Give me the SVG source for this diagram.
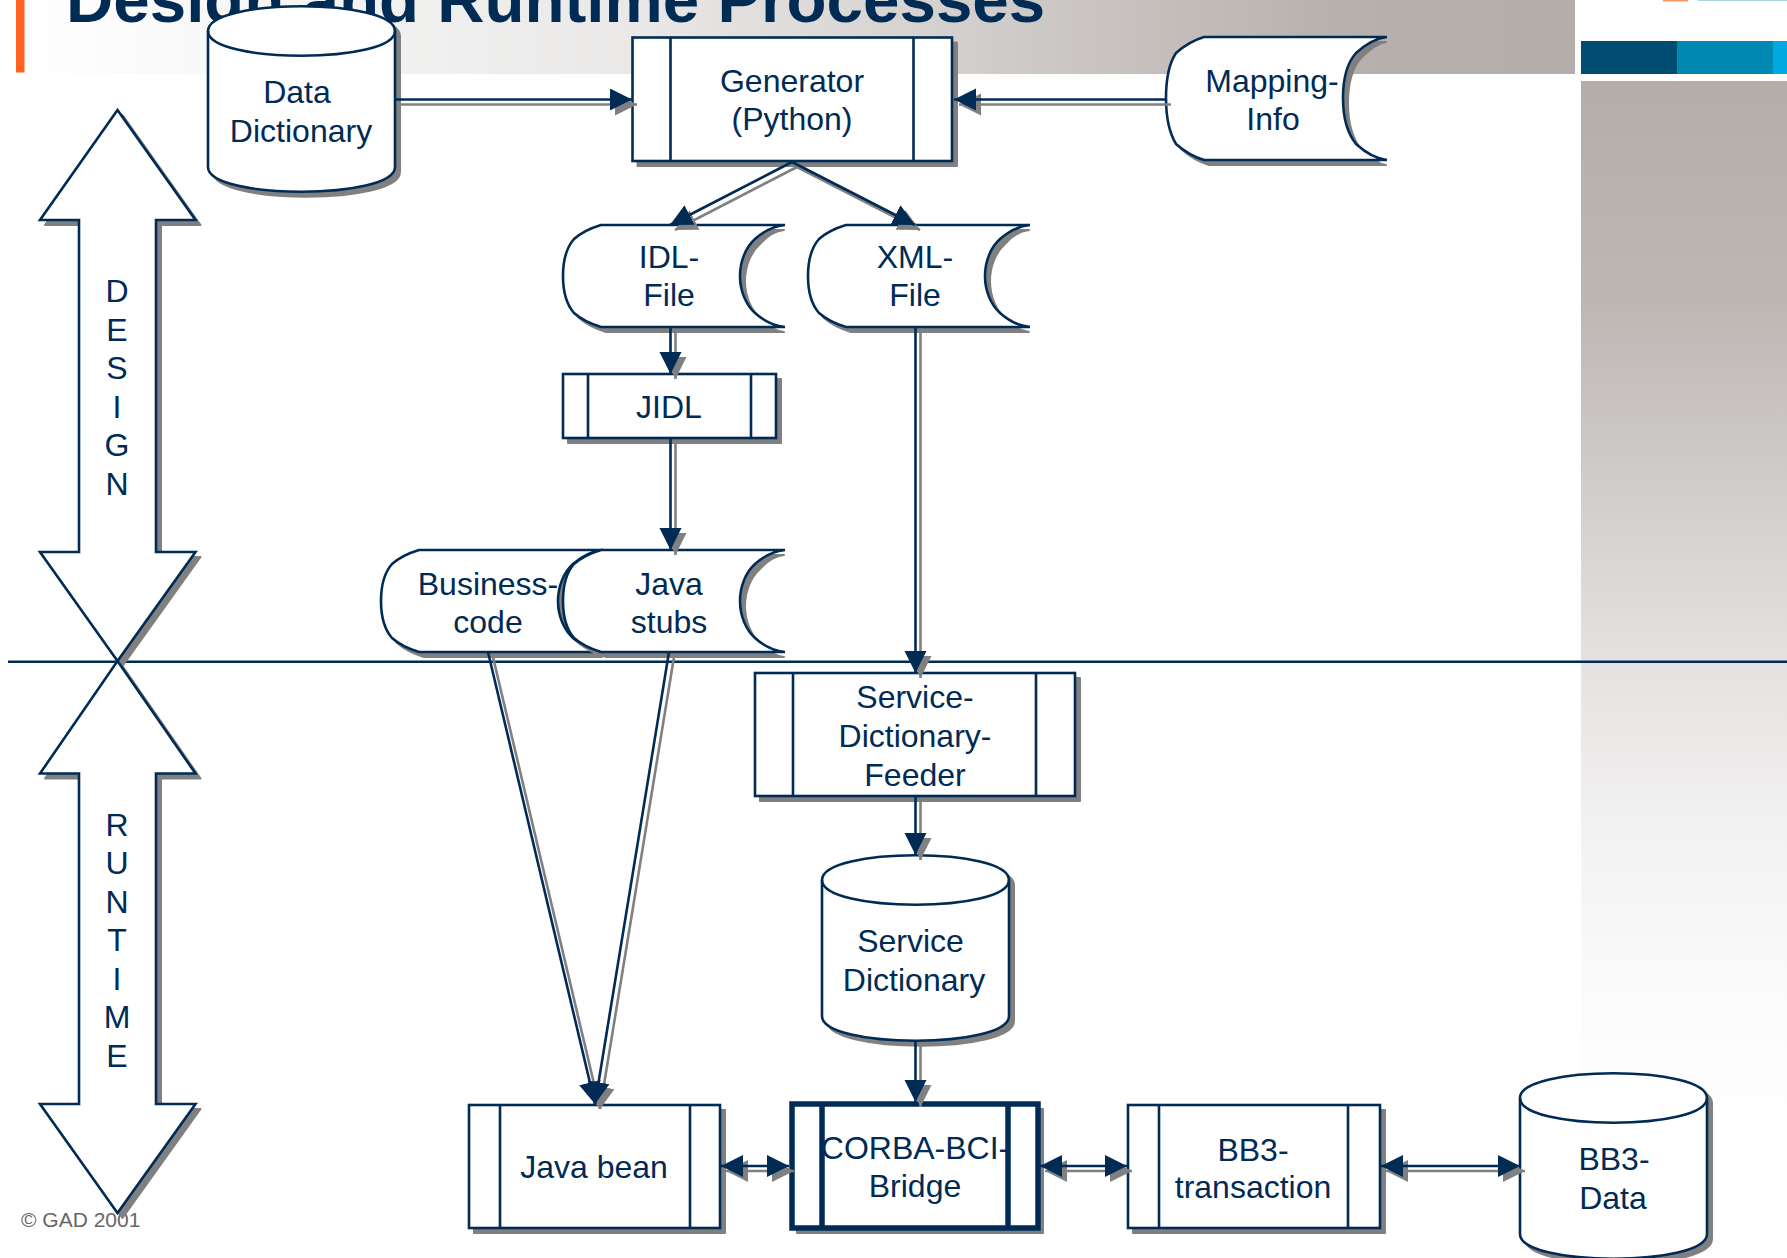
<svg xmlns="http://www.w3.org/2000/svg" width="1787" height="1258" viewBox="0 0 1787 1258">
<style>
text{font-family:"Liberation Sans",Arial,sans-serif;font-size:32px;fill:#002b55;text-anchor:middle}
.title{font-size:65.5px;font-weight:700;text-anchor:start}
.copy{font-size:21px;fill:#666;text-anchor:start}
.n{fill:#fff;stroke:#002b55;stroke-width:2.6;stroke-linejoin:miter}
.sh{fill:#808080;stroke:#808080;stroke-width:2;stroke-linejoin:round}
.in{fill:none;stroke:#002b55;stroke-width:2.6}
.thick{stroke-width:5.5}
.c{fill:none;stroke:#002b55;stroke-width:2.6}
.cs{fill:none;stroke:#808080;stroke-width:2.6}
.a{marker-end:url(#h)}
.as{marker-end:url(#hs)}
.b{marker-start:url(#t);marker-end:url(#h)}
.bs{marker-start:url(#ts);marker-end:url(#hs)}
</style>
<defs>
<linearGradient id="band" gradientUnits="userSpaceOnUse" x1="24" y1="0" x2="1575" y2="0">
<stop offset="0" stop-color="#fff"/><stop offset=".4" stop-color="#e9e8e7"/><stop offset=".7" stop-color="#c8c3c0"/><stop offset=".85" stop-color="#b8b0ad"/><stop offset="1" stop-color="#b5adaa"/>
</linearGradient>
<linearGradient id="panel" gradientUnits="userSpaceOnUse" x1="0" y1="81" x2="0" y2="1131">
<stop offset="0" stop-color="#b5adaa"/><stop offset=".209" stop-color="#bdb7b4"/><stop offset=".38" stop-color="#d0ccc9"/><stop offset=".552" stop-color="#e4e2e0"/><stop offset=".713" stop-color="#f3f2f2"/><stop offset=".875" stop-color="#fbfbfb"/><stop offset="1" stop-color="#fff"/>
</linearGradient>
<marker id="h" markerUnits="userSpaceOnUse" markerWidth="24" markerHeight="24" refX="22" refY="11" orient="auto"><path d="M0 0L22 11L0 22Z" fill="#002b55"/></marker>
<marker id="hs" markerUnits="userSpaceOnUse" markerWidth="24" markerHeight="24" refX="22" refY="11" orient="auto"><path d="M0 0L22 11L0 22Z" fill="#808080"/></marker>
<marker id="t" markerUnits="userSpaceOnUse" markerWidth="24" markerHeight="24" refX="0" refY="11" orient="auto"><path d="M22 0L0 11L22 22Z" fill="#002b55"/></marker>
<marker id="ts" markerUnits="userSpaceOnUse" markerWidth="24" markerHeight="24" refX="0" refY="11" orient="auto"><path d="M22 0L0 11L22 22Z" fill="#808080"/></marker>
<path id="doc" d="M38 0H222C212 1 201 6 192 14C183 22 177 36 177 51C177 66 183 80 192 88C201 96 212 101 222 102H38C28 99 19 95 11 88C4 80 0 66 0 51C0 36 4 22 11 14C19 7 28 3 38 0Z"/>
<path id="docs" d="M38 0H216C208 1 199 6 192 14C183 22 177 36 177 51C177 66 183 80 192 88C199 96 208 101 216 102H38C28 99 19 95 11 88C4 80 0 66 0 51C0 36 4 22 11 14C19 7 28 3 38 0Z"/>
<path id="cyl" d="M0 26C0 -7 187 -7 187 26V162C187 195 0 195 0 162Z"/>
</defs>

<g id="background">
<rect x="24" y="0" width="1551" height="74" fill="url(#band)"/>
<rect x="16" y="0" width="8.500" height="72.500" fill="#ff6121"/>
<rect x="1581" y="41" width="96" height="33" fill="#004d71"/>
<rect x="1677" y="41" width="96" height="33" fill="#0089b0"/>
<rect x="1773" y="41" width="14" height="33" fill="#00a9e0"/>
<rect x="1581" y="81" width="206" height="1177" fill="url(#panel)"/>
<rect x="1663" y="0" width="25" height="1.500" fill="#f7965c"/>
<rect x="1698" y="0" width="89" height="1" fill="#a9d3e0"/>
<text class="title" x="66" y="22">Design and Runtime Processes</text>
<text class="copy" x="21" y="1227">© GAD 2001</text>
</g>

<g id="divider"><path d="M8 661.700H1787" class="c"/></g>

<g id="design-arrow">
<path class="sh" transform="translate(5 5)" d="M117.500 110L195.500 220H156V552H195.500L117.500 661L40 552H79V220H40Z"/>
<path class="n" d="M117.500 110L195.500 220H156V552H195.500L117.500 661L40 552H79V220H40Z"/>
<text><tspan x="117" y="302">D</tspan><tspan x="117" dy="38.500">E</tspan><tspan x="117" dy="38.500">S</tspan><tspan x="117" dy="38.500">I</tspan><tspan x="117" dy="38.500">G</tspan><tspan x="117" dy="38.500">N</tspan></text>
</g>
<g id="runtime-arrow">
<path class="sh" transform="translate(5 5)" d="M117.500 661L195.500 773.500H156V1104H195.500L117.500 1213L40 1104H79V773.500H40Z"/>
<path class="n" d="M117.500 661L195.500 773.500H156V1104H195.500L117.500 1213L40 1104H79V773.500H40Z"/>
<text><tspan x="117" y="835.500">R</tspan><tspan x="117" dy="38.500">U</tspan><tspan x="117" dy="38.500">N</tspan><tspan x="117" dy="38.500">T</tspan><tspan x="117" dy="38.500">I</tspan><tspan x="117" dy="38.500">M</tspan><tspan x="117" dy="38.500">E</tspan></text>
</g>

<g id="data-dictionary">
<use href="#cyl" class="sh" x="213" y="10"/><use href="#cyl" class="n" x="208" y="5"/>
<path class="in" d="M208 31C208 64 395 64 395 31"/>
<text x="297" y="103">Data</text><text x="301" y="142">Dictionary</text>
</g>
<g id="generator">
<rect class="sh" x="637.500" y="42.500" width="319.500" height="123.500"/><rect class="n" x="632.500" y="37.500" width="319.500" height="123.500"/>
<path class="in" d="M670.500 37.500V161M913.500 37.500V161"/>
<text x="792" y="92">Generator</text><text x="792" y="129.500">(Python)</text>
</g>
<g id="mapping-info">
<path class="sh" transform="translate(5 5)" d="M1204 37H1381C1373 38 1363 46 1356 53C1348 62 1343 78 1343 98C1343 118 1348 134 1356 144C1363 151 1373 159 1381 160H1204C1194 157 1185 152 1176 144C1170 134 1166 118 1166 98C1166 78 1170 62 1176 53C1185 45 1194 40 1204 37Z"/>
<path class="n" d="M1204 37H1387C1377 38 1366 44 1356 53C1348 62 1343 78 1343 98C1343 118 1348 134 1356 144C1366 153 1377 159 1387 160H1204C1194 157 1185 152 1176 144C1170 134 1166 118 1166 98C1166 78 1170 62 1176 53C1185 45 1194 40 1204 37Z"/>
<text x="1272" y="92">Mapping-</text><text x="1273" y="130">Info</text>
</g>
<g id="idl-file">
<use href="#docs" class="sh" x="568" y="230"/><use href="#doc" class="n" x="563" y="225"/>
<text x="669" y="268">IDL-</text><text x="669" y="306">File</text>
</g>
<g id="xml-file">
<use href="#docs" class="sh" x="813" y="230"/><use href="#doc" class="n" x="808" y="225"/>
<text x="915" y="268">XML-</text><text x="915" y="306">File</text>
</g>
<g id="jidl">
<rect class="sh" x="568" y="379" width="213" height="64"/><rect class="n" x="563" y="374" width="213" height="64"/>
<path class="in" d="M588 374V438M751 374V438"/>
<text x="669" y="418">JIDL</text>
</g>
<g id="business-code">
<use href="#docs" class="sh" x="386" y="555"/><use href="#doc" class="n" x="381" y="550"/>
<text x="488" y="595">Business-</text><text x="488" y="633">code</text>
</g>
<g id="java-stubs">
<use href="#docs" class="sh" x="568" y="555"/><use href="#doc" class="n" x="563" y="550"/>
<text x="669" y="595">Java</text><text x="669" y="633">stubs</text>
</g>
<g id="service-dictionary-feeder">
<rect class="sh" x="760" y="678" width="320" height="123"/><rect class="n" x="755" y="673" width="320" height="123"/>
<path class="in" d="M793 673V796M1036 673V796"/>
<text x="915" y="708">Service-</text><text x="915" y="747">Dictionary-</text><text x="915" y="785.500">Feeder</text>
</g>
<g id="service-dictionary">
<use href="#cyl" class="sh" x="827" y="859"/><use href="#cyl" class="n" x="822" y="854"/>
<path class="in" d="M822 880C822 913 1009 913 1009 880"/>
<text x="910.500" y="952">Service</text><text x="914" y="991">Dictionary</text>
</g>
<g id="java-bean">
<rect class="sh" x="474" y="1110" width="251" height="123"/><rect class="n" x="469" y="1105" width="251" height="123"/>
<path class="in" d="M500 1105V1228M690 1105V1228"/>
<text x="594" y="1178">Java bean</text>
</g>
<g id="corba-bci-bridge">
<rect class="sh" x="797" y="1109" width="246" height="124"/><rect class="n thick" x="792" y="1104" width="246" height="124"/>
<path class="in thick" d="M822 1104V1228M1008 1104V1228"/>
<text x="915" y="1159">CORBA-BCI-</text><text x="915" y="1197">Bridge</text>
</g>
<g id="bb3-transaction">
<rect class="sh" x="1133" y="1110" width="252" height="123"/><rect class="n" x="1128" y="1105" width="252" height="123"/>
<path class="in" d="M1159 1105V1228M1348 1105V1228"/>
<text x="1253" y="1160.500">BB3-</text><text x="1253" y="1198">transaction</text>
</g>
<g id="bb3-data">
<use href="#cyl" class="sh" x="1525" y="1077"/><use href="#cyl" class="n" x="1520" y="1072"/>
<path class="in" d="M1520 1098C1520 1131 1707 1131 1707 1098"/>
<text x="1614" y="1170">BB3-</text><text x="1613" y="1209">Data</text>
</g>

<g id="connectors">
<g transform="translate(5 5)">
<path class="cs as" d="M396 99.500H632"/><path class="cs as" d="M1166 99.500H954"/>
<path class="cs as" d="M792 162L670 225"/><path class="cs as" d="M792 162L915 225"/>
<path class="cs as" d="M670.500 327V374"/><path class="cs as" d="M670.500 438V550"/>
<path class="cs as" d="M915.500 327V673"/><path class="cs as" d="M915.500 796V855"/><path class="cs as" d="M915.500 1041V1102"/>
<path class="cs as" d="M488 652L595 1104"/><path class="cs as" d="M669 652L595 1104"/>
<path class="cs bs" d="M721 1166H789"/><path class="cs bs" d="M1040 1166H1127"/><path class="cs bs" d="M1381 1166H1520"/>
</g>
<path class="c a" d="M396 99.500H632"/><path class="c a" d="M1166 99.500H954"/>
<path class="c a" d="M792 162L670 225"/><path class="c a" d="M792 162L915 225"/>
<path class="c a" d="M670.500 327V374"/><path class="c a" d="M670.500 438V550"/>
<path class="c a" d="M915.500 327V673"/><path class="c a" d="M915.500 796V855"/><path class="c a" d="M915.500 1041V1102"/>
<path class="c a" d="M488 652L595 1104"/><path class="c a" d="M669 652L595 1104"/>
<path class="c b" d="M721 1166H789"/><path class="c b" d="M1040 1166H1127"/><path class="c b" d="M1381 1166H1520"/>
</g>
</svg>
